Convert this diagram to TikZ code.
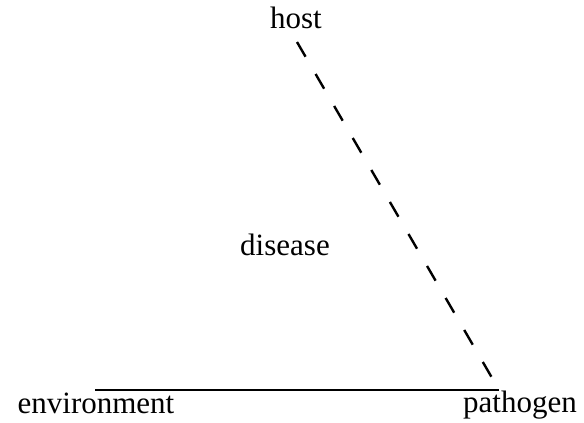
\documentclass[tikz,border=0pt]{standalone}
\usepackage{fontspec}
\setmainfont{Liberation Serif}
\begin{document}
\begin{tikzpicture}[x=1pt,y=-1pt,
  label/.style={anchor=base,inner sep=0pt,font=\fontsize{31}{36}\selectfont},
  side/.style={line width=2pt},
  dashside/.style={line width=2.4pt,dash pattern=on 17pt off 20pt}]

\useasboundingbox (0,0) rectangle (584,423);

\node[label] (host) at (296,28) {host};
\node[label] (disease) at (285,255) {disease};
\node[label] (environment) at (96,413) {environment};
\node[label] (pathogen) at (520,412) {pathogen};

% ends of the two sides
\coordinate (top) at (297,42);
\coordinate (left) at (95,390);
\coordinate (right) at (499,390);
\coordinate (tip) at (495,383);

\draw[side] (left) -- (right);
\draw[dashside] (top) -- (tip);

\end{tikzpicture}
\end{document}
